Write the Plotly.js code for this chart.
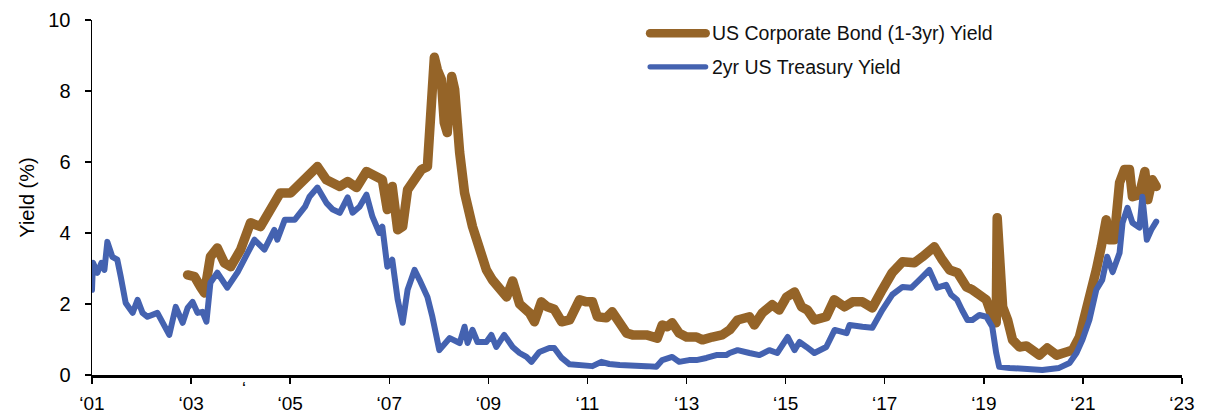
<!DOCTYPE html>
<html>
<head>
<meta charset="utf-8">
<script src="https://cdn.plot.ly/plotly-3.0.1.min.js"></script>
<style>
  html, body { margin: 0; padding: 0; background: #fff; }
  #chart { width: 1211px; height: 415px; }
</style>
</head>
<body>
<div id="chart"></div>
<script>
// ---- Data (decimal years, yield %) ----
const corpName = "US Corporate Bond (1-3yr) Yield";
const tsyName = "2yr US Treasury Yield";

const corpX = [2002.93,2003.07,2003.19,2003.27,2003.39,2003.53,2003.67,2003.80,2004.00,2004.20,2004.40,2004.60,2004.80,2005.01,2005.21,2005.35,2005.55,2005.73,2005.86,2006.00,2006.16,2006.34,2006.54,2006.74,2006.86,2006.96,2007.06,2007.17,2007.27,2007.37,2007.51,2007.65,2007.77,2007.85,2007.91,2007.97,2008.05,2008.11,2008.17,2008.26,2008.32,2008.42,2008.52,2008.68,2008.82,2008.96,2009.08,2009.22,2009.37,2009.49,2009.63,2009.83,2009.93,2010.07,2010.19,2010.33,2010.48,2010.64,2010.74,2010.84,2010.98,2011.10,2011.20,2011.38,2011.50,2011.65,2011.79,2011.91,2012.19,2012.41,2012.51,2012.61,2012.71,2012.85,2013.00,2013.20,2013.32,2013.52,2013.72,2013.87,2014.03,2014.27,2014.37,2014.53,2014.73,2014.87,2015.02,2015.18,2015.32,2015.44,2015.58,2015.82,2015.98,2016.19,2016.35,2016.55,2016.75,2016.95,2017.15,2017.36,2017.60,2017.76,2018.00,2018.16,2018.31,2018.47,2018.65,2018.77,2018.91,2019.05,2019.17,2019.25,2019.27,2019.33,2019.38,2019.48,2019.58,2019.72,2019.86,2019.98,2020.12,2020.28,2020.47,2020.67,2020.79,2020.93,2021.07,2021.17,2021.27,2021.37,2021.47,2021.53,2021.63,2021.74,2021.84,2021.94,2022.00,2022.14,2022.25,2022.31,2022.40,2022.48];
const corpY = [2.82,2.77,2.48,2.31,3.33,3.58,3.16,3.05,3.53,4.29,4.18,4.66,5.13,5.13,5.42,5.64,5.87,5.50,5.42,5.31,5.45,5.28,5.73,5.56,5.50,4.66,5.31,4.09,4.18,5.22,5.50,5.79,5.87,8.52,8.95,8.60,8.33,7.11,6.83,8.41,8.04,6.27,5.13,4.18,3.53,2.96,2.68,2.48,2.20,2.65,2.00,1.75,1.50,2.06,1.92,1.85,1.50,1.55,1.92,2.12,2.06,2.06,1.64,1.61,1.78,1.41,1.18,1.13,1.13,1.04,1.41,1.36,1.47,1.18,1.07,1.07,0.99,1.07,1.13,1.27,1.55,1.64,1.41,1.75,1.98,1.83,2.20,2.34,1.92,1.83,1.55,1.64,2.12,1.92,2.06,2.06,1.89,2.40,2.88,3.19,3.16,3.33,3.61,3.25,2.96,2.88,2.48,2.40,2.26,2.12,1.64,1.47,4.43,2.48,1.92,1.55,0.99,0.79,0.82,0.70,0.56,0.76,0.56,0.65,0.70,1.07,1.75,2.40,2.96,3.61,4.37,3.81,3.81,5.42,5.79,5.79,5.02,5.08,5.73,4.94,5.50,5.31];

const tsyX = [2001.00,2001.02,2001.11,2001.19,2001.25,2001.31,2001.41,2001.51,2001.58,2001.68,2001.82,2001.92,2002.02,2002.12,2002.32,2002.46,2002.56,2002.69,2002.83,2002.93,2003.03,2003.13,2003.23,2003.31,2003.39,2003.53,2003.73,2003.94,2004.14,2004.28,2004.48,2004.68,2004.74,2004.89,2005.09,2005.30,2005.39,2005.55,2005.73,2005.86,2006.00,2006.16,2006.26,2006.40,2006.54,2006.66,2006.80,2006.86,2006.96,2007.06,2007.17,2007.27,2007.37,2007.51,2007.61,2007.77,2007.87,2008.01,2008.22,2008.42,2008.52,2008.58,2008.68,2008.78,2008.96,2009.06,2009.16,2009.32,2009.49,2009.63,2009.77,2009.87,2010.03,2010.17,2010.23,2010.33,2010.48,2010.64,2010.74,2010.90,2011.10,2011.28,2011.44,2011.65,2011.91,2012.19,2012.39,2012.51,2012.71,2012.85,2013.05,2013.20,2013.40,2013.60,2013.80,2013.87,2014.03,2014.13,2014.27,2014.47,2014.67,2014.83,2014.94,2015.04,2015.18,2015.28,2015.42,2015.58,2015.82,2015.99,2016.23,2016.29,2016.55,2016.75,2016.95,2017.15,2017.36,2017.54,2017.70,2017.90,2018.06,2018.24,2018.34,2018.46,2018.56,2018.67,2018.77,2018.91,2019.05,2019.17,2019.25,2019.31,2019.52,2019.86,2020.18,2020.52,2020.73,2020.87,2020.99,2021.13,2021.27,2021.39,2021.49,2021.60,2021.74,2021.80,2021.90,2022.00,2022.14,2022.20,2022.29,2022.38,2022.48];
const tsyY = [2.40,3.16,2.88,3.16,2.96,3.75,3.33,3.25,2.77,2.03,1.75,2.12,1.75,1.64,1.75,1.36,1.13,1.92,1.47,1.89,2.06,1.75,1.78,1.50,2.60,2.88,2.46,2.90,3.44,3.81,3.53,4.09,3.81,4.37,4.37,4.74,5.02,5.28,4.85,4.66,4.57,5.00,4.57,4.74,5.08,4.46,4.00,4.18,3.05,3.25,2.12,1.47,2.40,2.96,2.68,2.20,1.64,0.70,1.04,0.90,1.36,0.90,1.27,0.93,0.93,1.13,0.79,1.13,0.79,0.62,0.51,0.37,0.65,0.76,0.76,0.76,0.48,0.30,0.28,0.25,0.25,0.37,0.31,0.28,0.28,0.25,0.23,0.42,0.51,0.37,0.42,0.42,0.48,0.56,0.56,0.62,0.70,0.65,0.62,0.56,0.70,0.62,0.90,1.07,0.70,0.93,0.79,0.62,0.79,1.27,1.18,1.41,1.36,1.33,1.83,2.26,2.48,2.46,2.68,2.96,2.46,2.54,2.26,2.12,1.83,1.55,1.55,1.69,1.64,1.36,0.62,0.23,0.20,0.17,0.14,0.20,0.34,0.62,0.99,1.55,2.40,2.68,3.33,2.90,3.44,4.29,4.71,4.29,4.15,5.02,3.81,4.09,4.32];

const xTickVals = [2001,2003,2005,2007,2009,2011,2013,2015,2017,2019,2021,2023];
const xTickText = ["\u201801","\u201803","\u201805","\u201807","\u201809","\u201811","\u201813","\u201815","\u201817","\u201819","\u201821","\u201823"];
const yTickVals = [0,2,4,6,8,10];

// ---- Styles ----
const BROWN = "#956428";
const BLUE = "#4462B0";
const FONT = "'Liberation Sans', Arial, Helvetica, sans-serif";

const traces = [
  { x: corpX, y: corpY, name: corpName, type: "scatter", mode: "lines",
    line: { color: BROWN, width: 9.5, shape: "linear" } },
  { x: tsyX, y: tsyY, name: tsyName, type: "scatter", mode: "lines",
    line: { color: BLUE, width: 6, shape: "linear" } }
];

// legend drawn as shapes + annotations (paper coordinates)
const legendItems = [
  { name: corpName, color: BROWN, width: 8.5, y: 0.963 },
  { name: tsyName, color: BLUE, width: 5.2, y: 0.868 }
];
const LEG_X0 = 0.512, LEG_X1 = 0.563, LEG_TX = 0.567;

const layout = {
  width: 1211, height: 415,
  margin: { l: 92, r: 29, t: 20, b: 40 },
  paper_bgcolor: "#ffffff", plot_bgcolor: "#ffffff",
  font: { family: FONT, color: "#000", size: 19 },
  showlegend: false,
  xaxis: {
    type: "linear", range: [2001, 2023],
    tickvals: xTickVals, ticktext: xTickText,
    ticks: "outside", ticklen: 6, tickwidth: 1.5, tickcolor: "#000",
    showline: true, linecolor: "#000", linewidth: 2.5,
    showgrid: false, zeroline: false,
    tickfont: { family: FONT, size: 19, color: "#000" },
    ticklabelstandoff: 4
  },
  yaxis: {
    range: [0, 10], tickvals: yTickVals,
    ticks: "outside", ticklen: 6, tickwidth: 1.5, tickcolor: "#000",
    showline: true, linecolor: "#000", linewidth: 1.5,
    showgrid: false, zeroline: false,
    tickfont: { family: FONT, size: 20, color: "#000" },
    ticklabelstandoff: 10,
    title: { text: "Yield (%)", font: { family: FONT, size: 20, color: "#000" }, standoff: 8 }
  },
  shapes: legendItems.map(function (it) {
    return { type: "line", xref: "paper", yref: "paper", x0: LEG_X0, x1: LEG_X1, y0: it.y, y1: it.y,
             line: { color: it.color, width: it.width } };
  }),
  annotations: legendItems.map(function (it) {
    return { xref: "paper", yref: "paper", x: LEG_TX, y: it.y, xanchor: "left", yanchor: "middle",
             text: it.name, showarrow: false, font: { family: FONT, size: 19.5, color: "#111" } };
  }).concat([
    { xref: "x", yref: "paper", x: 2004.06, y: -0.005, text: "\u2018", showarrow: false,
      yanchor: "top", font: { family: FONT, size: 18, color: "#000" } }
  ])
};

Plotly.newPlot("chart", traces, layout, { staticPlot: true, displayModeBar: false }).then(function () {
  document.querySelectorAll(".shapelayer path").forEach(function (p) {
    p.style.strokeLinecap = "round";
  });
  document.querySelectorAll(".scatterlayer .js-line").forEach(function (p) {
    p.style.strokeLinejoin = "round";
    p.style.strokeLinecap = "round";
  });
});
</script>
</body>
</html>
